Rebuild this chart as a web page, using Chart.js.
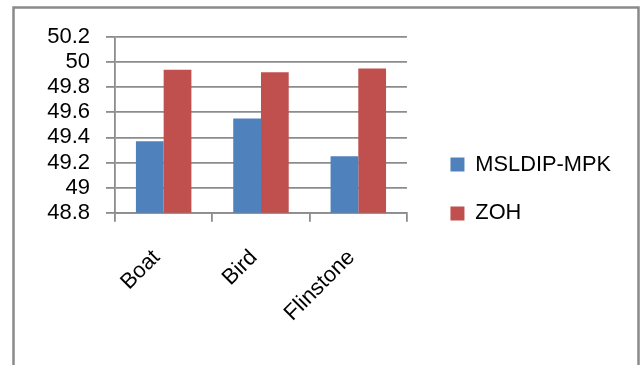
<!DOCTYPE html>
<html>
<head>
<meta charset="utf-8">
<style>
  html, body { margin: 0; padding: 0; background: #ffffff; }
  #wrap { position: relative; width: 641px; height: 365px; }
</style>
<script src="https://cdn.jsdelivr.net/npm/chart.js@4/dist/chart.umd.min.js"></script>
</head>
<body>
<div id="wrap"><canvas id="chart" width="641" height="365"></canvas></div>
<script>
// Image set names and the two methods compared
const categories = ['Boat', 'Bird', 'Flinstone'];
const seriesNames = ['MSLDIP-MPK', 'ZOH'];
const mslidpValues = [49.37, 49.55, 49.25];
const zohValues = [49.94, 49.92, 49.95];
const yTickValues = [48.8, 49, 49.2, 49.4, 49.6, 49.8, 50, 50.2];

const FONT = '"Liberation Sans", Arial, sans-serif';

// Grey frame around the whole figure
const framePlugin = {
  id: 'frame',
  beforeDraw(chart) {
    const ctx = chart.ctx;
    ctx.save();
    ctx.fillStyle = '#ffffff';
    ctx.fillRect(0, 0, chart.width, chart.height);
    ctx.strokeStyle = '#8a8a8a';
    ctx.lineWidth = 2.5;
    ctx.beginPath();
    ctx.moveTo(13.5, chart.height + 5);
    ctx.lineTo(13.5, 7.5);
    ctx.lineTo(638.5, 7.5);
    ctx.lineTo(638.5, chart.height + 5);
    ctx.stroke();
    ctx.restore();
  }
};

new Chart(document.getElementById('chart'), {
  type: 'bar',
  data: {
    labels: categories,
    datasets: [
      { label: seriesNames[0], data: mslidpValues, backgroundColor: '#4F81BD', yAxisID: 'y' },
      { label: seriesNames[1], data: zohValues, backgroundColor: '#C0504D', yAxisID: 'y' }
    ]
  },
  options: {
    responsive: false,
    animation: false,
    devicePixelRatio: 1,
    layout: { padding: { top: 37, left: 0, right: 20, bottom: 24 } },
    datasets: { bar: { categoryPercentage: 0.57, barPercentage: 1.0 } },
    plugins: {
      legend: {
        position: 'right',
        maxWidth: 320,
        labels: {
          font: { family: FONT, size: 21.8 },
          color: '#000000',
          boxWidth: 14,
          boxHeight: 14,
          padding: 27
        }
      },
      tooltip: { enabled: false }
    },
    scales: {
      x: {
        grid: { offset: true, drawOnChartArea: false, drawTicks: true, tickLength: 9, color: '#8c8c8c', lineWidth: 1.8 },
        border: { color: '#8c8c8c', width: 1.8 },
        ticks: {
          font: { family: FONT, size: 22 },
          color: '#000000',
          minRotation: 45,
          maxRotation: 45,
          padding: 23,
          labelOffset: -7
        },
        afterFit(scale) { scale.height = 128.3; }
      },
      y: {
        min: 48.8,
        max: 50.2,
        afterBuildTicks(scale) { scale.ticks = yTickValues.map(v => ({ value: v })); },
        grid: { color: '#8c8c8c', lineWidth: 1.8, tickLength: 9 },
        border: { color: '#8c8c8c', width: 1.8 },
        ticks: {
          autoSkip: false,
          font: { family: FONT, size: 22 },
          color: '#000000',
          padding: 16,
          callback: v => String(+Number(v).toFixed(1))
        },
        afterFit(scale) { scale.width = 115; }
      },
      gap: {
        type: 'linear',
        position: 'right',
        display: true,
        grid: { display: false },
        border: { display: false },
        ticks: { display: false },
        afterFit(scale) { scale.width = 16.5; }
      }
    }
  },
  plugins: [framePlugin]
});
</script>
</body>
</html>
